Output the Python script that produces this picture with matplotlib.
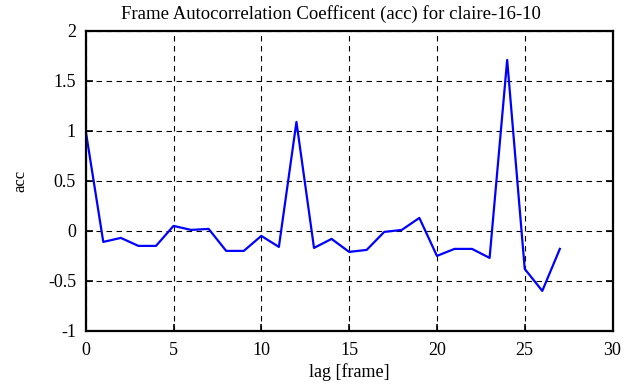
import numpy as np
import matplotlib.pyplot as plt

lags = list(range(28))
acc = [1.0, -0.11, -0.07, -0.15, -0.15, 0.05, 0.01, 0.02, -0.2, -0.2,
       -0.05, -0.16, 1.09, -0.17, -0.08, -0.21, -0.19, -0.01, 0.01, 0.13,
       -0.25, -0.18, -0.18, -0.27, 1.71, -0.38, -0.6, -0.18]
xticks = [0, 5, 10, 15, 20, 25, 30]
yticks = [-1, -0.5, 0, 0.5, 1, 1.5, 2]
yticklabels = ["-1", "-0.5", "0", "0.5", "1", "1.5", "2"]

plt.rcParams["font.family"] = ["Liberation Serif", "DejaVu Serif"]
plt.rcParams["font.size"] = 13

fig = plt.figure(figsize=(6.35, 3.87), dpi=100)
ax = fig.add_axes([0.135, 0.145, 0.8296, 0.775])
ax.plot(lags, acc, color="#0000ff", linewidth=1.6)
ax.set_xlim(0, 30)
ax.set_ylim(-1, 2)
ax.set_xticks(xticks)
ax.set_yticks(yticks)
ax.set_yticklabels(yticklabels)
ax.grid(True, color="black", linestyle=(0, (5, 4)), linewidth=0.8)
ax.tick_params(direction="in", length=5, width=1.2, top=False, right=True)
ax.tick_params(axis="x", pad=8)
ax.tick_params(axis="y", pad=7)
for s in ax.spines.values():
    s.set_linewidth(1.6)
ax.set_xlabel("lag [frame]", labelpad=3)
ax.set_ylabel("acc", labelpad=14, fontsize=12)
ax.set_title("Frame Autocorrelation Coefficent (acc) for claire-16-10",
             fontsize=13.5, pad=9, x=0.466)
fig.savefig("out.png", dpi=100)
